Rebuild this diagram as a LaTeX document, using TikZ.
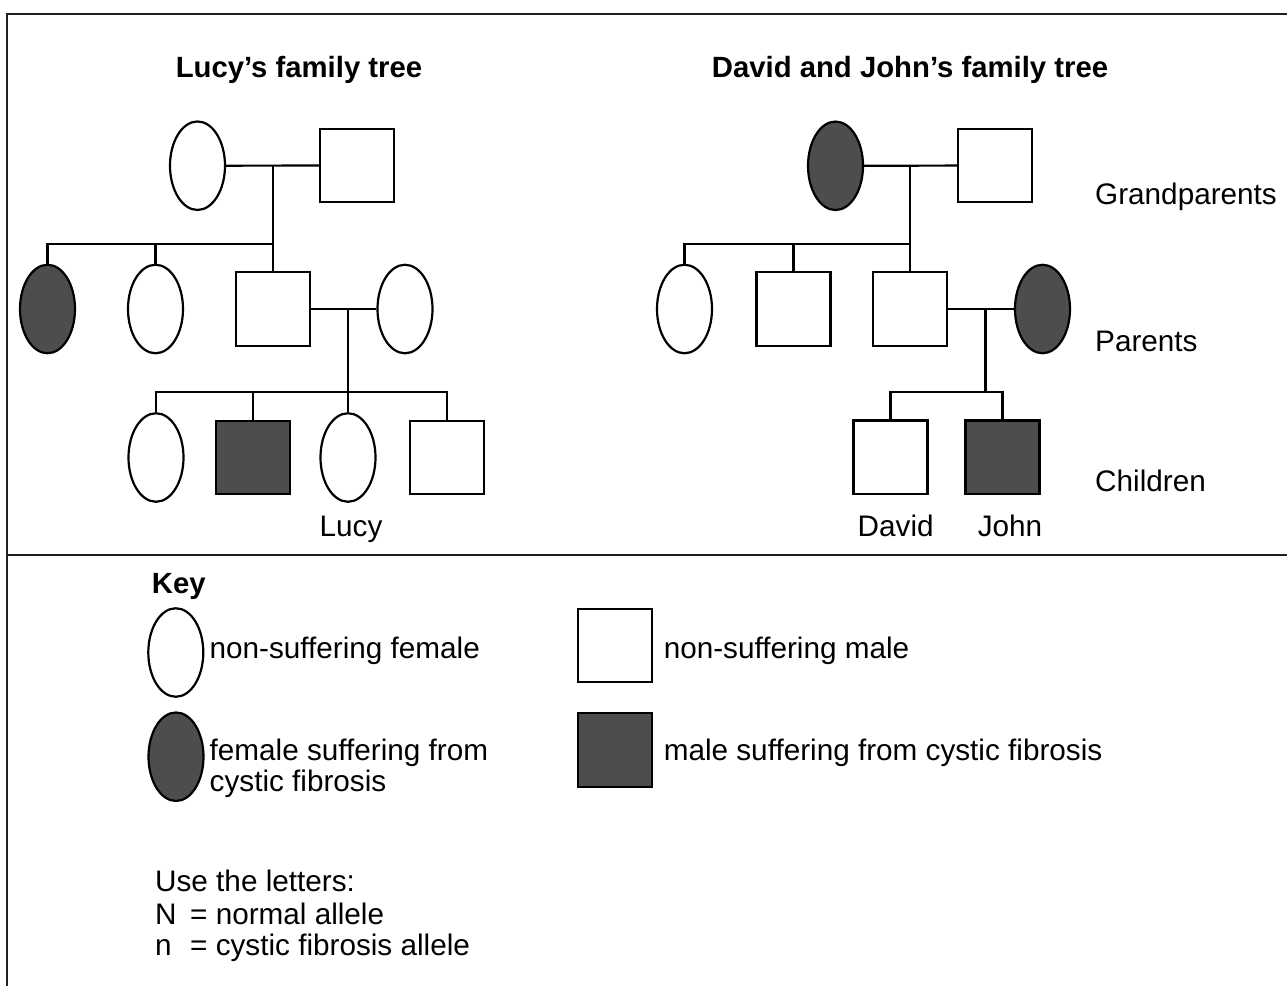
\documentclass[tikz,border=0pt]{standalone}
\usepackage{fontspec}
\setmainfont{Liberation Sans}
\usetikzlibrary{shapes.geometric}
\definecolor{cfgray}{RGB}{77,77,77}
\begin{document}
\begin{tikzpicture}[x=1pt,y=-1pt,
  fem/.style={draw, ellipse, line width=2.2pt, minimum width=55pt, minimum height=88.5pt, inner sep=0pt, fill=white},
  mal/.style={draw, rectangle, line width=2.2pt, minimum width=74pt, minimum height=73.5pt, inner sep=0pt, fill=white},
  aff/.style={fill=cfgray},
  link/.style={line width=2.2pt},
  frame/.style={line width=2pt, draw=black!88},
  lbl/.style={inner sep=0pt, anchor=base west, font=\fontsize{29.7}{32}\selectfont},
  ttl/.style={inner sep=0pt, anchor=base, font=\fontsize{29.3}{32}\selectfont\bfseries},
]
\useasboundingbox (0,0) rectangle (1287,986);
\fill[white] (0,0) rectangle (1287,986);

% frame
\draw[frame] (1287,14) -- (7,14) -- (7,986);
\draw[frame] (7,555) -- (1287,555);

% titles
\node[ttl] (t1) at (299,77.5) {Lucy’s family tree};
\node[ttl] (t2) at (910,77.5) {David and John’s family tree};

% ---------- Lucy's tree ----------
\node[fem] (gm1) at (197.5,165.7) {};
\node[mal] (gf1) at (357,165.5) {};
\coordinate (m1) at (273.3,165.6);
\coordinate (s1) at (273.3,244);
\node[fem,aff] (a1) at (47.5,309) {};
\node[fem] (a2) at (155.5,309) {};
\node[mal] (a3) at (273.3,309) {};
\node[fem] (a4) at (405,309) {};
\coordinate (m2) at (348,309);
\coordinate (s2) at (348,392.3);
\node[fem] (b1) at (156,457.5) {};
\node[mal,aff] (b2) at (253,457.5) {};
\node[fem] (b3) at (348,457.5) {};
\node[mal] (b4) at (447,457.5) {};

\draw[link] (gm1) -- (gf1);
\draw[link] (m1) -- (a3.north);
\draw[link] (a1.north) |- (s1);
\draw[link] (a2.north) -- (a2.north |- s1);
\draw[link] (a3) -- (a4);
\draw[link] (m2) -- (b3.north);
\draw[link] (b1.north) |- (s2) -| (b4.north);
\draw[link] (b2.north) -- (b2.north |- s2);

\node[lbl] (lucy) at (319.5,536.7) {Lucy};

% ---------- David and John's tree ----------
\node[fem,aff] (gm2) at (835.5,165.8) {};
\node[mal] (gf2) at (995,165.5) {};
\coordinate (m3) at (910,165.6);
\coordinate (s3) at (910,244);
\node[fem] (c1) at (684.5,309) {};
\node[mal] (c2) at (793.4,309) {};
\node[mal] (c3) at (910,309) {};
\node[fem,aff] (c4) at (1042.5,309) {};
\coordinate (m4) at (985.5,309);
\coordinate (s4) at (985.5,392.3);
\node[mal] (d1) at (890.5,457.3) {};
\node[mal,aff] (d2) at (1002.5,457.3) {};

\draw[link] (gm2) -- (gf2);
\draw[link] (m3) -- (c3.north);
\draw[link] (c1.north) |- (s3);
\draw[link] (c2.north) -- (c2.north |- s3);
\draw[link] (c3) -- (c4);
\draw[link] (m4) -- (s4);
\draw[link] (d1.north) |- (s4) -| (d2.north);

\node[lbl] (david) at (857.5,536.7) {David};
\node[lbl] (john) at (977.6,536.7) {John};

\node[lbl] (gp) at (1095,204) {Grandparents};
\node[lbl] (par) at (1095,351) {Parents};
\node[lbl] (chi) at (1095,491) {Children};

% ---------- Key ----------
\node[lbl, font=\fontsize{29.3}{32}\selectfont\bfseries] (key) at (151.7,593) {Key};
\node[fem] (k1) at (175.8,652.5) {};
\node[fem,aff] (k2) at (176,756.7) {};
\node[mal] (k3) at (615,645.5) {};
\node[mal,aff] (k4) at (615,750) {};
\node[lbl] (k1t) at (209.5,658) {non-suffering female};
\node[lbl] (k2t) at (209.5,760) {female suffering from};
\node[lbl] (k2u) at (209.5,791) {cystic fibrosis};
\node[lbl] (k3t) at (663.6,658) {non-suffering male};
\node[lbl] (k4t) at (663.6,760) {male suffering from cystic fibrosis};

\node[lbl] (use) at (155,891.7) {Use the letters:};
\node[lbl] (al1) at (155,924) {\makebox[35pt][l]{N}= normal allele};
\node[lbl] (al2) at (155,955.7) {\makebox[35pt][l]{n}= cystic fibrosis allele};
\end{tikzpicture}
\end{document}
